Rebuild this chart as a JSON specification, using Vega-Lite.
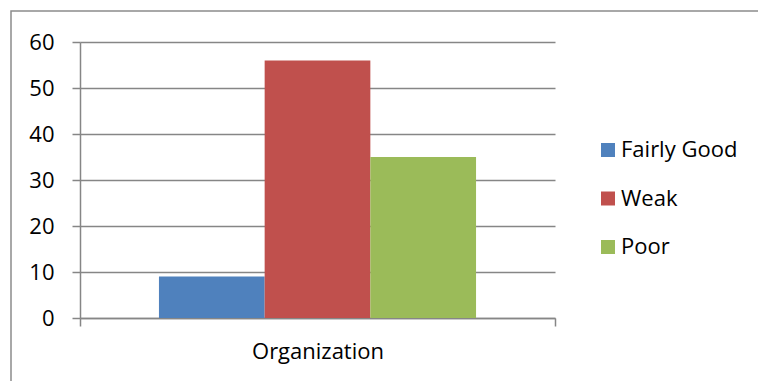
{
  "$schema": "https://vega.github.io/schema/vega-lite/v6.json",
  "autosize": "none",
  "padding": {"left": 11, "top": 11, "right": -13, "bottom": -10},
  "width": 760,
  "height": 380,
  "background": "white",
  "config": {
    "view": {"stroke": "#8c8c8c", "strokeWidth": 1.5},
    "font": "Open Sans"
  },
  "data": {
    "values": [
      {"category": "Organization", "rating": "Fairly Good", "value": 9},
      {"category": "Organization", "rating": "Weak", "value": 56},
      {"category": "Organization", "rating": "Poor", "value": 35}
    ]
  },
  "mark": {"type": "bar"},
  "encoding": {
    "x": {
      "field": "category",
      "type": "nominal",
      "scale": {"range": [69, 544], "paddingInner": 0, "paddingOuter": 0},
      "axis": {
        "title": null,
        "labelAngle": 0,
        "offset": -73,
        "tickBand": "extent",
        "domainColor": "#868686",
        "domainWidth": 1.5,
        "tickColor": "#868686",
        "tickWidth": 1.5,
        "tickSize": 8,
        "labelFontSize": 22,
        "labelColor": "#000000",
        "labelPadding": 15,
        "grid": false
      }
    },
    "xOffset": {
      "field": "rating",
      "type": "nominal",
      "sort": ["Fairly Good", "Weak", "Poor"],
      "scale": {"paddingOuter": 0.747, "paddingInner": 0}
    },
    "y": {
      "field": "value",
      "type": "quantitative",
      "scale": {"domain": [0, 60], "range": [307, 31], "nice": false},
      "axis": {
        "title": null,
        "values": [0, 10, 20, 30, 40, 50, 60],
        "offset": -69,
        "grid": true,
        "gridColor": "#868686",
        "gridWidth": 1.5,
        "domainColor": "#868686",
        "domainWidth": 1.5,
        "tickColor": "#868686",
        "tickWidth": 1.5,
        "tickSize": 8,
        "labelFontSize": 22,
        "labelColor": "#000000",
        "labelPadding": 18
      }
    },
    "color": {
      "field": "rating",
      "type": "nominal",
      "sort": ["Fairly Good", "Weak", "Poor"],
      "scale": {
        "domain": ["Fairly Good", "Weak", "Poor"],
        "range": ["#4F81BD", "#C0504D", "#9BBB59"]
      },
      "legend": {
        "title": null,
        "orient": "none",
        "legendX": 586,
        "legendY": 128,
        "padding": 0,
        "symbolType": "square",
        "symbolSize": 196,
        "symbolStrokeWidth": 0,
        "labelFontSize": 22,
        "labelColor": "#000000",
        "labelOffset": 2,
        "rowPadding": 26.5
      }
    }
  }
}
